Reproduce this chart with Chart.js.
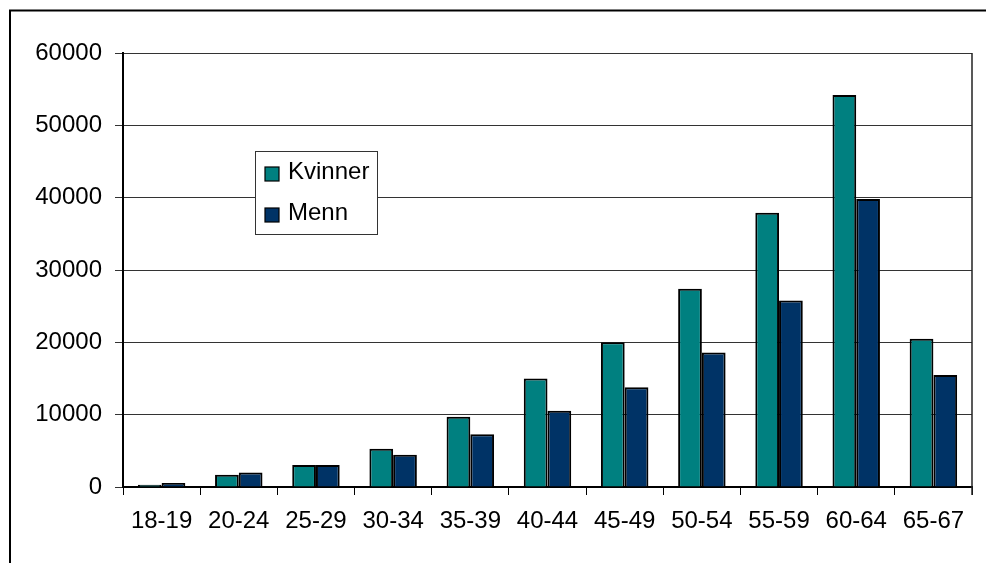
<!DOCTYPE html>
<html>
<head>
<meta charset="utf-8">
<script src="https://cdn.jsdelivr.net/npm/chart.js@4.4.1/dist/chart.umd.min.js"></script>
<style>
  html, body { margin: 0; padding: 0; background: #ffffff; }
  #wrap { position: relative; width: 986px; height: 563px; }
</style>
</head>
<body>
<div id="wrap"><canvas id="c" width="986" height="563"></canvas></div>
<script>
const categories = ['18-19','20-24','25-29','30-34','35-39','40-44','45-49','50-54','55-59','60-64','65-67'];
const kvinner = [300, 1700, 3050, 5300, 9700, 15000, 20000, 27400, 37900, 54200, 20500];
const menn    = [550, 2000, 3050, 4450, 7300, 10550, 13800, 18600, 25800, 39800, 15500];
const seriesNames = ['Kvinner', 'Menn'];
const seriesColors = ['#008080', '#003366'];
const yTicks = [0, 10000, 20000, 30000, 40000, 50000, 60000];

const FONT = "'Liberation Sans', Arial, sans-serif";

const framePlugin = {
  id: 'frame',
  beforeDraw(chart) {
    const ctx = chart.ctx;
    ctx.save();
    ctx.fillStyle = '#ffffff';
    ctx.fillRect(0, 0, chart.width, chart.height);
    ctx.strokeStyle = '#000000';
    ctx.lineWidth = 2;
    ctx.beginPath();
    ctx.moveTo(10, chart.height + 5);
    ctx.lineTo(10, 10.5);
    ctx.lineTo(chart.width + 5, 10.5);
    ctx.stroke();
    ctx.restore();
  },
  afterDatasetsDraw(chart) {
    const ctx = chart.ctx;
    const a = chart.chartArea;
    ctx.save();
    ctx.strokeStyle = '#222222';
    ctx.lineWidth = 1.5;
    ctx.beginPath();
    ctx.moveTo(a.right, a.top);
    ctx.lineTo(a.right, a.bottom + 8);
    ctx.stroke();
    // legend box
    const bx = a.left + 132, by = 151, bw = 122, bh = 83;
    ctx.fillStyle = '#ffffff';
    ctx.fillRect(bx, by, bw, bh);
    ctx.strokeStyle = '#333333';
    ctx.lineWidth = 1;
    ctx.strokeRect(bx + 0.5, by + 0.5, bw, bh);
    ctx.font = '24px ' + FONT;
    ctx.textBaseline = 'middle';
    ctx.textAlign = 'left';
    const rows = [174, 215];
    seriesNames.forEach((n, i) => {
      const cy = rows[i];
      ctx.fillStyle = seriesColors[i];
      ctx.fillRect(bx + 10, cy - 7, 14, 14);
      ctx.strokeStyle = '#000000';
      ctx.lineWidth = 1.2;
      ctx.strokeRect(bx + 10, cy - 7, 14, 14);
      ctx.fillStyle = '#000000';
      ctx.fillText(n, bx + 33, cy - 2);
    });
    ctx.restore();
  }
};

new Chart(document.getElementById('c'), {
  type: 'bar',
  data: {
    labels: categories,
    datasets: [
      { label: seriesNames[0], data: kvinner, backgroundColor: seriesColors[0], borderColor: '#000000', borderWidth: 2 },
      { label: seriesNames[1], data: menn, backgroundColor: seriesColors[1], borderColor: '#000000', borderWidth: 2 }
    ]
  },
  options: {
    responsive: false,
    animation: false,
    devicePixelRatio: 1,
    layout: { padding: { top: 53, right: 14, left: 0, bottom: 0 } },
    datasets: { bar: { categoryPercentage: 0.615, barPercentage: 1.0 } },
    plugins: { legend: { display: false }, tooltip: { enabled: false }, title: { display: false } },
    scales: {
      x: {
        grid: { display: true, drawOnChartArea: false, drawTicks: true, tickLength: 8, color: '#000000', lineWidth: 1, offset: true },
        border: { display: true, color: '#000000', width: 2 },
        ticks: { color: '#000000', font: { family: FONT, size: 24 }, padding: 12, maxRotation: 0, autoSkip: false },
        afterFit(s) { s.height = 563 - 487; }
      },
      y: {
        min: 0, max: 60000,
        afterBuildTicks(s) { s.ticks = yTicks.map(v => ({ value: v })); },
        grid: { color: '#333333', lineWidth: 1, drawTicks: true, tickLength: 8 },
        border: { display: true, color: '#000000', width: 2 },
        ticks: { color: '#000000', font: { family: FONT, size: 24 }, padding: 13, callback: v => String(v) },
        afterFit(s) { s.width = 123; }
      }
    }
  },
  plugins: [framePlugin]
});
</script>
</body>
</html>
